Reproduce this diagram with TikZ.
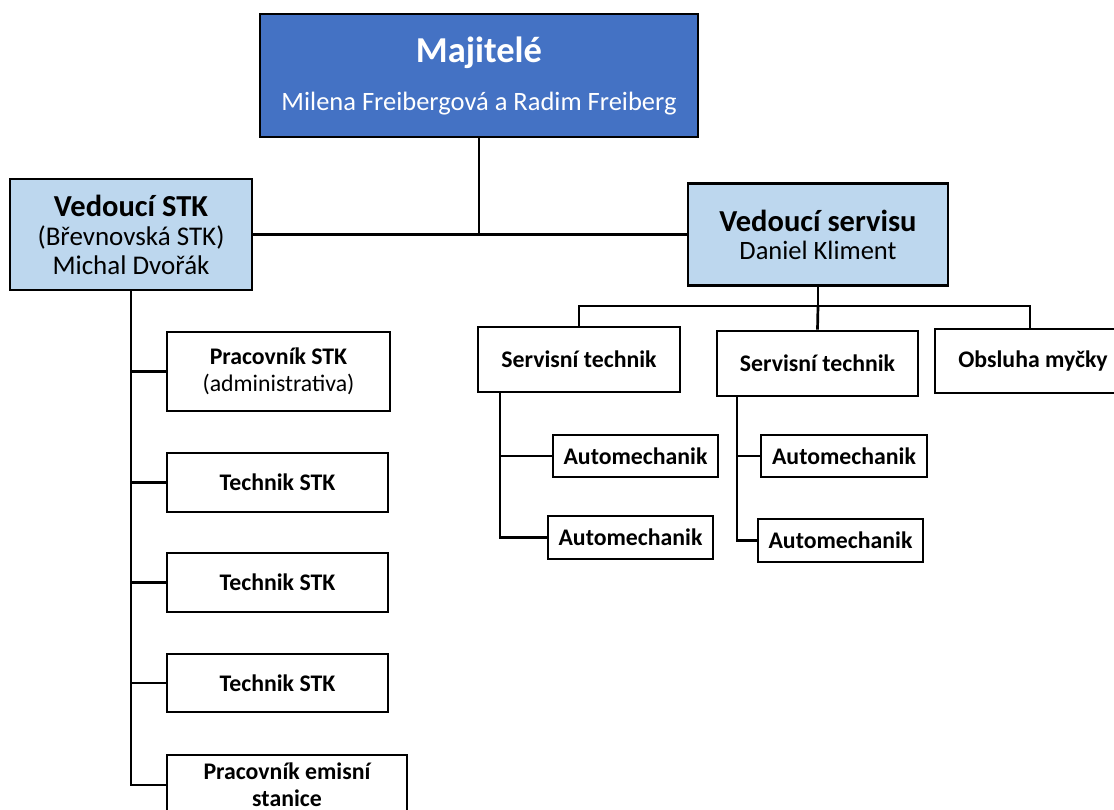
\documentclass[tikz,border=0pt]{standalone}
\usepackage{fontspec}
\setmainfont{Carlito}
\definecolor{ownblue}{HTML}{4472C4}
\definecolor{headblue}{HTML}{BDD7EE}
\begin{document}
\begin{tikzpicture}[x=1pt,y=-1pt,
  box/.style={draw=black,line width=2.7pt,inner sep=0pt,align=center,fill=white},
  head/.style={box,fill=headblue},
  kid/.style={box,font=\fontsize{23.8}{27}\selectfont\bfseries},
  conn/.style={draw=black,line width=2.7pt}]
\useasboundingbox (0,0) rectangle (1114,810);
\clip (0,0) rectangle (1114,810);
\fill[white] (0,0) rectangle (1114,810);
% top
\node[box,fill=ownblue,text=white,minimum width=438pt,minimum height=123pt,
  font=\fontsize{26.5}{48}\selectfont] (own) at (479,75.5)
  {{\fontsize{36.5}{48}\selectfont\bfseries Majitelé}\\Milena Freibergová a Radim Freiberg};
% heads
\node[head,minimum width=242pt,minimum height=111pt,font=\fontsize{27}{29}\selectfont] (stk) at (131,234.5)
  {{\fontsize{30.5}{29}\selectfont\bfseries Vedoucí STK}\\(Břevnovská STK)\\Michal Dvořák};
\node[head,minimum width=260pt,minimum height=102pt,font=\fontsize{26.5}{28}\selectfont] (serv) at (818,234.5)
  {{\fontsize{30.5}{28}\selectfont\bfseries Vedoucí servisu}\\Daniel Kliment};
% STK children
\node[kid,minimum width=223pt,minimum height=79pt] (p1) at (278.5,371.5)
  {Pracovník STK\\\mdseries(administrativa)};
\node[kid,minimum width=221pt,minimum height=59pt] (t1) at (277.5,482.5) {Technik STK};
\node[kid,minimum width=221pt,minimum height=59pt] (t2) at (277.5,582.5) {Technik STK};
\node[kid,minimum width=221pt,minimum height=58pt] (t3) at (277.5,683) {Technik STK};
\node[kid,minimum width=240pt,minimum height=60pt] (em) at (287,785) {Pracovník emisní\\stanice};
% service children
\node[kid,minimum width=202pt,minimum height=65pt] (st1) at (579,359.5) {Servisní technik};
\node[kid,minimum width=201pt,minimum height=65pt] (st2) at (817.5,363.5) {Servisní technik};
\node[kid,minimum width=196pt,minimum height=64pt] (om) at (1033,361) {Obsluha myčky};
\node[kid,minimum width=165pt,minimum height=42pt] (a1) at (635.5,456) {Automechanik};
\node[kid,minimum width=165pt,minimum height=43pt] (a2) at (630.5,537.5) {Automechanik};
\node[kid,minimum width=166pt,minimum height=42pt] (a3) at (844,456) {Automechanik};
\node[kid,minimum width=165pt,minimum height=43pt] (a4) at (840.5,540.5) {Automechanik};
% connectors
\draw[conn] (own.south) -- (own.south |- stk.east);
\draw[conn] (stk.east) -- (serv.west);
\draw[conn] (stk.south) -- (stk.south |- em.west) -- (em.west);
\draw[conn] (stk.south |- p1.west) -- (p1.west);
\draw[conn] (stk.south |- t1.west) -- (t1.west);
\draw[conn] (stk.south |- t2.west) -- (t2.west);
\draw[conn] (stk.south |- t3.west) -- (t3.west);
\coordinate (bar) at (818,306);
\coordinate (omtop) at (1030,329);
\draw[conn] (serv.south) -- (bar);
\draw[conn] (st1.north) |- (bar) -| (omtop);
\draw[conn] (bar) -- (st2.north);
\coordinate (s1) at (500,392);
\coordinate (s2) at (737,396);
\draw[conn] (s1) |- (a2.west);
\draw[conn] (s1 |- a1.west) -- (a1.west);
\draw[conn] (s2) |- (a4.west);
\draw[conn] (s2 |- a3.west) -- (a3.west);
\end{tikzpicture}
\end{document}
